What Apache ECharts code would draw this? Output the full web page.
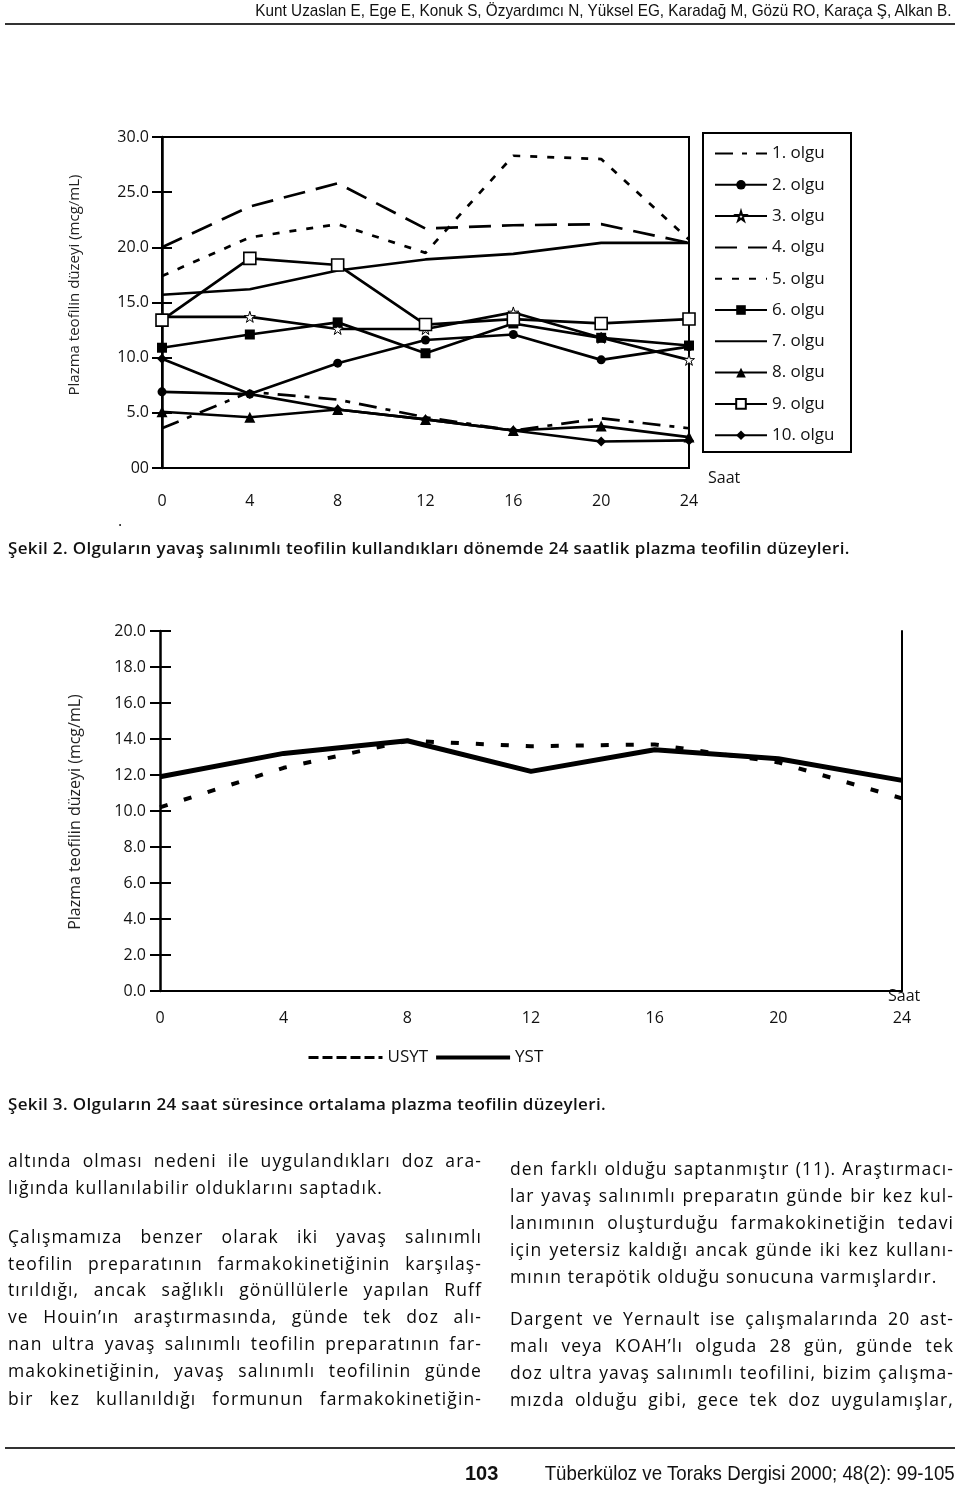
<!DOCTYPE html>
<html>
<head>
<meta charset="utf-8">
<script src="https://cdn.jsdelivr.net/npm/echarts@6/dist/echarts.min.js"></script>
<style>
  html, body { margin: 0; padding: 0; background: #fff; }
  #page { position: relative; width: 960px; height: 1488px; overflow: hidden; }
  #chart { position: absolute; left: 0; top: 0; width: 960px; height: 1488px; }
  .t { position: absolute; color: #111; white-space: nowrap; }
  .hdr { font-family: "Liberation Sans", sans-serif; font-size: 17px; transform: scaleX(0.9); transform-origin: right center; }
  .ftr { font-family: "Liberation Sans", sans-serif; }
  .cap { font-family: "Open Sans", sans-serif; font-weight: 600; font-size: 17px; letter-spacing: 0.35px; left: 8px; height: 24px; line-height: 24px; }
  .body { font-family: "Open Sans", sans-serif; font-size: 17.5px; letter-spacing: 1.1px; height: 27px; line-height: 27px; text-align: justify; text-align-last: justify; color: #0a0a0a; }
  .body.last { text-align-last: left; }
  .lc { left: 8px; width: 474px; }
  .rc { left: 510px; width: 444px; }
  .rule { position: absolute; background: #333; }
</style>
</head>
<body>
<div id="page">
  <div id="chart"></div>
</div>
<script>
// ---------- data ----------
const hours = [0, 4, 8, 12, 16, 20, 24];
const xTickLabels = ['0', '4', '8', '12', '16', '20', '24'];
const yTopLabels = ['00', '5.0', '10.0', '15.0', '20.0', '25.0', '30.0'];
const yBotLabels = ['0.0', '2.0', '4.0', '6.0', '8.0', '10.0', '12.0', '14.0', '16.0', '18.0', '20.0'];

const caseNames = ['1. olgu', '2. olgu', '3. olgu', '4. olgu', '5. olgu', '6. olgu', '7. olgu', '8. olgu', '9. olgu', '10. olgu'];
const olgu1 = [3.6, 6.9, 6.2, 4.6, 3.4, 4.5, 3.6];
const olgu2 = [6.9, 6.7, 9.5, 11.6, 12.1, 9.8, 11.0];
const olgu3 = [13.7, 13.7, 12.6, 12.6, 14.1, 11.8, 9.8];
const olgu4 = [20.0, 23.7, 25.8, 21.7, 22.0, 22.1, 20.4];
const olgu5 = [17.4, 20.9, 22.1, 19.5, 28.3, 28.0, 20.7];
const olgu6 = [10.9, 12.1, 13.2, 10.4, 13.1, 11.8, 11.1];
const olgu7 = [15.7, 16.2, 17.9, 18.9, 19.4, 20.4, 20.4];
const olgu8 = [5.1, 4.6, 5.3, 4.4, 3.4, 3.8, 2.8];
const olgu9 = [13.4, 19.0, 18.4, 13.0, 13.5, 13.1, 13.5];
const olgu10 = [9.9, 6.7, 5.3, 4.4, 3.4, 2.4, 2.5];

const meanNames = ['USYT', 'YST'];
const usyt = [10.2, 12.4, 13.9, 13.6, 13.7, 12.7, 10.7];
const yst = [11.9, 13.2, 13.9, 12.2, 13.4, 12.9, 11.7];

// ---------- helpers ----------
const FONT = '"Open Sans", sans-serif';
const pairs = (vals) => vals.map((v, i) => [hours[i], v]);
const STAR = 'path://M0,-10 L2.2,-3 L9.5,-3 L3.6,1.2 L5.9,8.1 L0,3.8 L-5.9,8.1 L-3.6,1.2 L-9.5,-3 L-2.2,-3 Z';
const noMarks = [0, 3, 4, 6];

function caseSeries(idx, vals, lineType, symbol, symbolSize, itemStyle) {
  return {
    name: caseNames[idx], type: 'line', xAxisIndex: 0, yAxisIndex: 0,
    data: pairs(vals),
    symbol: symbol || 'none', symbolSize: symbolSize || 0, showSymbol: !!symbol,
    lineStyle: { color: '#000', width: 2.7, type: lineType || 'solid' },
    itemStyle: itemStyle || { color: '#000' },
    z: 3, animation: false
  };
}
const hiddenIcon = { color: 'rgba(0,0,0,0)', borderColor: 'rgba(0,0,0,0)', borderWidth: 0, opacity: 0 };

const chart = echarts.init(document.getElementById('chart'), null, { renderer: 'canvas' });

const option = {
  animation: false,
  backgroundColor: '#fff',
  grid: [
    { left: 162, top: 137, width: 527, height: 331, show: true, borderColor: '#000', borderWidth: 2, backgroundColor: 'transparent' },
    { left: 160, top: 631, width: 742, height: 360, show: false }
  ],
  xAxis: [
    {
      gridIndex: 0, type: 'value', min: 0, max: 24, interval: 4,
      axisLine: { show: true, lineStyle: { color: '#000', width: 2 } },
      axisTick: { show: false }, splitLine: { show: false },
      axisLabel: { margin: 25, fontFamily: FONT, fontSize: 16, color: '#111',
        formatter: (v) => xTickLabels[hours.indexOf(v)] }
    },
    {
      gridIndex: 1, type: 'value', min: 0, max: 24, interval: 4,
      axisLine: { show: true, lineStyle: { color: '#000', width: 2 } },
      axisTick: { show: false }, splitLine: { show: false },
      axisLabel: { margin: 19, fontFamily: FONT, fontSize: 16, color: '#111',
        formatter: (v) => xTickLabels[hours.indexOf(v)] }
    }
  ],
  yAxis: [
    {
      gridIndex: 0, type: 'value', min: 0, max: 30, interval: 5,
      axisLine: { show: true, lineStyle: { color: '#000', width: 2.5 } },
      axisTick: { show: true, inside: false, length: 10, lineStyle: { color: '#000', width: 2 } },
      splitLine: { show: false },
      axisLabel: { margin: 13, fontFamily: FONT, fontSize: 16, color: '#111',
        formatter: (v) => yTopLabels[Math.round(v / 5)] }
    },
    {
      gridIndex: 0, type: 'value', min: 0, max: 30, interval: 5, position: 'left',
      axisLine: { show: false },
      axisTick: { show: true, inside: true, length: 10, lineStyle: { color: '#000', width: 2 } },
      splitLine: { show: false }, axisLabel: { show: false }
    },
    {
      gridIndex: 1, type: 'value', min: 0, max: 20, interval: 2,
      axisLine: { show: true, lineStyle: { color: '#000', width: 2.5 } },
      axisTick: { show: true, inside: false, length: 10, lineStyle: { color: '#000', width: 2 } },
      splitLine: { show: false },
      axisLabel: { margin: 14, fontFamily: FONT, fontSize: 16, color: '#111',
        formatter: (v) => yBotLabels[Math.round(v / 2)] }
    },
    {
      gridIndex: 1, type: 'value', min: 0, max: 20, interval: 2, position: 'left',
      axisLine: { show: false },
      axisTick: { show: true, inside: true, length: 11, lineStyle: { color: '#000', width: 2 } },
      splitLine: { show: false }, axisLabel: { show: false }
    },
    {
      gridIndex: 1, type: 'value', min: 0, max: 20, interval: 2, position: 'right',
      axisLine: { show: true, lineStyle: { color: '#000', width: 2 } },
      axisTick: { show: false }, splitLine: { show: false }, axisLabel: { show: false }
    }
  ],
  legend: [
    {
      data: caseNames.map((n, i) => noMarks.includes(i) ? { name: n, itemStyle: hiddenIcon } : { name: n }),
      orient: 'vertical', left: 714, top: 145,
      itemWidth: 52, itemHeight: 12, itemGap: 14.3, padding: 0,
      textStyle: { fontFamily: FONT, fontSize: 17, color: '#111' },
      selectedMode: false
    },
    {
      data: [
        { name: meanNames[0], itemStyle: hiddenIcon, lineStyle: { type: [10, 4], width: 3, color: '#000' } },
        { name: meanNames[1], itemStyle: hiddenIcon, lineStyle: { type: 'solid', width: 4, color: '#000' } }
      ],
      orient: 'horizontal', left: 307, top: 1049,
      itemWidth: 74, itemHeight: 14, itemGap: 6, padding: 0,
      textStyle: { fontFamily: FONT, fontSize: 17, color: '#111' },
      selectedMode: false
    }
  ],
  series: [
    caseSeries(0, olgu1, [18, 9, 5, 9]),
    caseSeries(1, olgu2, 'solid', 'circle', 9),
    caseSeries(2, olgu3, 'solid', STAR, 11, { color: '#fff', borderColor: '#000', borderWidth: 1 }),
    caseSeries(3, olgu4, [22, 11]),
    caseSeries(4, olgu5, [7, 10]),
    caseSeries(5, olgu6, 'solid', 'rect', 10),
    caseSeries(6, olgu7, 'solid'),
    caseSeries(7, olgu8, 'solid', 'triangle', 11),
    caseSeries(8, olgu9, 'solid', 'rect', 12, { color: '#fff', borderColor: '#000', borderWidth: 1.6 }),
    caseSeries(9, olgu10, 'solid', 'diamond', 10),
    {
      name: meanNames[0], type: 'line', xAxisIndex: 1, yAxisIndex: 2,
      data: pairs(usyt), symbol: 'none', showSymbol: false,
      lineStyle: { color: '#000', width: 4, type: [8, 17] }, itemStyle: { color: '#000' }, z: 3
    },
    {
      name: meanNames[1], type: 'line', xAxisIndex: 1, yAxisIndex: 2,
      data: pairs(yst), symbol: 'none', showSymbol: false,
      lineStyle: { color: '#000', width: 5 }, itemStyle: { color: '#000' }, z: 4
    }
  ],
  graphic: [
    { type: 'rect', shape: { x: 703, y: 133, width: 148, height: 319 },
      style: { fill: 'none', stroke: '#000', lineWidth: 2 }, z: 1 },
    { type: 'text', x: 75, y: 285, rotation: Math.PI / 2,
      style: { text: 'Plazma teofilin düzeyi (mcg/mL)', font: '15px "Open Sans", sans-serif', fill: '#222', align: 'center', verticalAlign: 'middle' } },
    { type: 'text', x: 75, y: 812, rotation: Math.PI / 2,
      style: { text: 'Plazma teofilin düzeyi (mcg/mL)', font: '16px "Open Sans", sans-serif', fill: '#222', align: 'center', verticalAlign: 'middle' } },
    { type: 'text', x: 708, y: 478,
      style: { text: 'Saat', font: '16px "Open Sans", sans-serif', fill: '#111', align: 'left', verticalAlign: 'middle' } },
    { type: 'text', x: 888, y: 996,
      style: { text: 'Saat', font: '16px "Open Sans", sans-serif', fill: '#111', align: 'left', verticalAlign: 'middle' } },
    { type: 'text', x: 120, y: 521,
      style: { text: '.', font: '16px "Open Sans", sans-serif', fill: '#111', align: 'center', verticalAlign: 'middle' } }
  ]
};
chart.setOption(option);

// ---------- page text ----------
const page = document.getElementById('page');
function addText(cls, text, left, top, extra) {
  const d = document.createElement('div');
  d.className = 't ' + cls;
  d.textContent = text;
  if (left !== null) d.style.left = left + 'px';
  d.style.top = top + 'px';
  if (extra) Object.assign(d.style, extra);
  page.appendChild(d);
  return d;
}
function addRule(x, y, w, h) {
  const r = document.createElement('div');
  r.className = 'rule';
  Object.assign(r.style, { left: x + 'px', top: y + 'px', width: w + 'px', height: h + 'px' });
  page.appendChild(r);
}

const header = 'Kunt Uzaslan E, Ege E, Konuk S, Özyardımcı N, Yüksel EG, Karadağ M, Gözü RO, Karaça Ş, Alkan B.';
addText('hdr', header, null, 1, { right: '8px' });
addRule(5, 23, 950, 2);

addText('cap', 'Şekil 2. Olguların yavaş salınımlı teofilin kullandıkları dönemde 24 saatlik plazma teofilin düzeyleri.', null, 536);
addText('cap', 'Şekil 3. Olguların 24 saat süresince ortalama plazma teofilin düzeyleri.', null, 1092);

const leftLines = [
  ['altında olması nedeni ile uygulandıkları doz ara-', 1160, false],
  ['lığında kullanılabilir olduklarını saptadık.', 1187, true],
  ['Çalışmamıza benzer olarak iki yavaş salınımlı', 1236, false],
  ['teofilin preparatının farmakokinetiğinin karşılaş-', 1263, false],
  ['tırıldığı, ancak sağlıklı gönüllülerle yapılan Ruff', 1289, false],
  ['ve Houin\u2019ın araştırmasında, günde tek doz alı-', 1316, false],
  ['nan ultra yavaş salınımlı teofilin preparatının far-', 1343, false],
  ['makokinetiğinin, yavaş salınımlı teofilinin günde', 1370, false],
  ['bir kez kullanıldığı formunun farmakokinetiğin-', 1398, false]
];
const rightLines = [
  ['den farklı olduğu saptanmıştır (11). Araştırmacı-', 1168, false],
  ['lar yavaş salınımlı preparatın günde bir kez kul-', 1195, false],
  ['lanımının oluşturduğu farmakokinetiğin tedavi', 1222, false],
  ['için yetersiz kaldığı ancak günde iki kez kullanı-', 1249, false],
  ['mının terapötik olduğu sonucuna varmışlardır.', 1276, true],
  ['Dargent ve Yernault ise çalışmalarında 20 ast-', 1318, false],
  ['malı veya KOAH\u2019lı olguda 28 gün, günde tek', 1345, false],
  ['doz ultra yavaş salınımlı teofilini, bizim çalışma-', 1372, false],
  ['mızda olduğu gibi, gece tek doz uygulamışlar,', 1399, false]
];
leftLines.forEach(([t, y, last]) => addText('body lc' + (last ? ' last' : ''), t, null, y - 13.5));
rightLines.forEach(([t, y, last]) => addText('body rc' + (last ? ' last' : ''), t, null, y - 13.5));

addRule(5, 1447, 950, 2);
addText('ftr', '103', 465, 1462, { fontSize: '20px', fontWeight: 'bold' });
addText('ftr', 'Tüberküloz ve Toraks Dergisi 2000; 48(2): 99-105', null, 1461, { right: '5px', fontSize: '21px', transform: 'scaleX(0.89)', transformOrigin: 'right center' });
</script>
</body>
</html>
